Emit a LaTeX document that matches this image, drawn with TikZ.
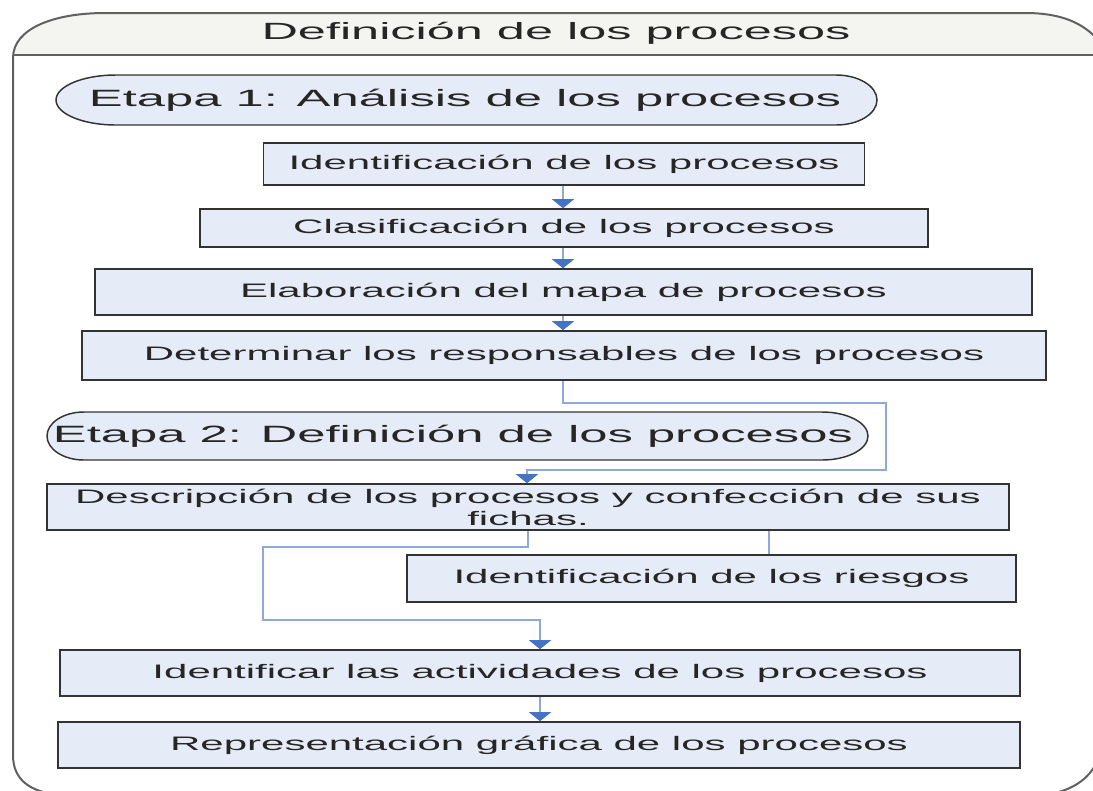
\documentclass[tikz,border=0pt]{standalone}
\usepackage{fontspec}
\setmainfont{Liberation Sans}[FakeStretch=2.15]
\usetikzlibrary{arrows.meta}
\definecolor{boxfill}{HTML}{E6ECF7}
\definecolor{boxline}{HTML}{333333}
\definecolor{connc}{HTML}{8EA9D8}
\definecolor{tipc}{HTML}{4472C4}
\definecolor{txt}{HTML}{262626}
\definecolor{outerc}{HTML}{606060}
\definecolor{headfill}{HTML}{F4F4F1}
\newcommand\pxl[1]{#1*0.75pt}
\begin{document}
\begin{tikzpicture}[x=0.75pt,y=-0.75pt,
  stepbox/.style={draw=boxline, fill=boxfill, line width=1.2pt, inner sep=0pt, text=txt,
    font=\fontsize{14.65}{16.5}\selectfont},
  stagetext/.style={inner sep=0pt, text=txt, font=\fontsize{17.7}{20}\selectfont},
  headtext/.style={inner sep=0pt, text=txt, font=\fontsize{17.6}{20}\selectfont},
  ovalbox/.style={draw=boxline, fill=boxfill, line width=1.1pt},
  outerline/.style={draw=outerc, line width=1.5pt},
  conn/.style={draw=connc, line width=1.1pt},
  arr/.style={conn, -{Triangle[width=16.5pt,length=6.75pt,color=tipc,fill=tipc]}},
]
\useasboundingbox (0,0) rectangle (1093,790);
\clip (0,0) rectangle (1093,790);
% container
\fill[white] (13,58) .. controls (13,28) and (55,13) .. (105,13) -- (1025,13)
  .. controls (1060,13) and (1083,22) .. (1100,42) -- (1100,745)
  .. controls (1100,770) and (1080,790) .. (1045,795) -- (60,795)
  .. controls (30,792) and (13,780) .. (13,755) -- cycle;
\begin{scope}
  \clip (0,0) rectangle (1100,55);
  \fill[headfill] (13,58) .. controls (13,28) and (55,13) .. (105,13) -- (1025,13)
    .. controls (1060,13) and (1083,22) .. (1100,42) -- (1100,100) -- (13,100) -- cycle;
\end{scope}
\draw[outerline] (13,58) .. controls (13,28) and (55,13) .. (105,13) -- (1025,13)
  .. controls (1060,13) and (1083,22) .. (1100,42) -- (1100,745)
  .. controls (1100,770) and (1080,790) .. (1045,795) -- (60,795)
  .. controls (30,792) and (13,780) .. (13,755) -- cycle;
\draw[outerline] (13,55) -- (1100,55);
\node[headtext] (head) at (556,33) {Definición de los procesos};
% stage ovals
\path[ovalbox] (116,75) -- (836,75) arc[start angle=-90,end angle=90,x radius=41,y radius=25]
  -- (116,125) arc[start angle=90,end angle=270,x radius=60,y radius=25] -- cycle;
\node[stagetext] (s1) at (465,100) {Etapa 1: Análisis de los procesos};
\path[ovalbox] (84,412) -- (822,412) arc[start angle=-90,end angle=90,x radius=46,y radius=24]
  -- (84,460) arc[start angle=90,end angle=270,x radius=37,y radius=24] -- cycle;
\node[stagetext] (s2) at (453,436) {Etapa 2: Definición de los procesos};
% boxes
\node[stepbox, minimum width=\pxl{601}, minimum height=\pxl{42}] (b1) at (564,164) {Identificación de los procesos};
\node[stepbox, minimum width=\pxl{728}, minimum height=\pxl{38}] (b2) at (564,228) {Clasificación de los procesos};
\node[stepbox, minimum width=\pxl{937}, minimum height=\pxl{46}] (b3) at (563.5,292) {Elaboración del mapa de procesos};
\node[stepbox, minimum width=\pxl{964}, minimum height=\pxl{49}] (b4) at (564,355.5) {Determinar los responsables de los procesos};
\node[stepbox, minimum width=\pxl{962}, minimum height=\pxl{46}, align=center] (d) at (528,507) {Descripción de los procesos y confección de sus\\fichas.};
\node[stepbox, minimum width=\pxl{609}, minimum height=\pxl{47}] (r) at (711.5,578.5) {Identificación de los riesgos};
\node[stepbox, minimum width=\pxl{960}, minimum height=\pxl{46}] (ia) at (540,673) {Identificar las actividades de los procesos};
\node[stepbox, minimum width=\pxl{962}, minimum height=\pxl{46}] (rg) at (539,745) {Representación gráfica de los procesos};
% connectors
\coordinate (xa) at (563,0);
\coordinate (c1) at (886,403);
\coordinate (c2) at (886,470);
\coordinate (xb) at (527,0);
\coordinate (xc) at (528,0);
\coordinate (c3) at (263,547);
\coordinate (c4) at (263,620);
\coordinate (xd) at (540,0);
\coordinate (xe) at (769,0);
\draw[arr] (b1.south -| xa) -- (b2.north -| xa);
\draw[arr] (b2.south -| xa) -- (b3.north -| xa);
\draw[arr] (b3.south -| xa) -- (b4.north -| xa);
\draw[arr] (b4.south -| xa) |- (c1) -- (c2) -| (d.north -| xb);
\draw[arr] (d.south -| xc) |- (c3) -- (c4) -| (ia.north -| xd);
\draw[conn] (d.south -| xe) -- (r.north -| xe);
\draw[arr] (ia.south -| xd) -- (rg.north -| xd);
\end{tikzpicture}
\end{document}
